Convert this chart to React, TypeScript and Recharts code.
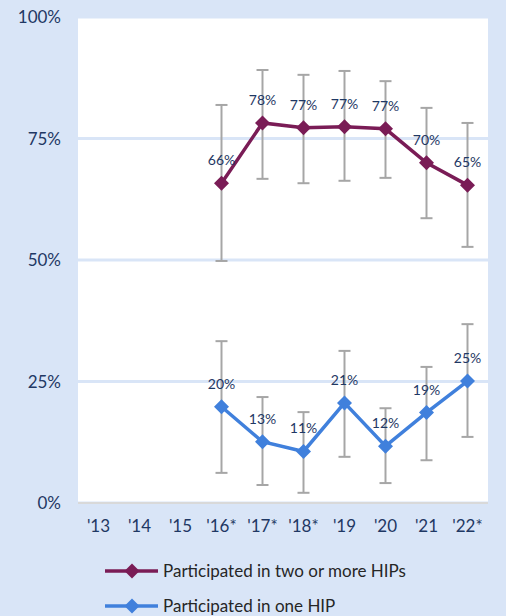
import React from "react";
import {
  ComposedChart,
  Line,
  XAxis,
  YAxis,
  CartesianGrid,
  Legend,
  ErrorBar,
  LabelList,
} from "recharts";

// survey years (asterisk = significant change)
const years = ["'13", "'14", "'15", "'16*", "'17*", "'18*", "'19", "'20", "'21", "'22*"];

// Participated in two or more HIPs
const twoPlus = [null, null, null, 65.8, 78.2, 77.2, 77.4, 77.0, 70.0, 65.4];
const twoPlusLow = [null, null, null, 49.8, 66.7, 65.8, 66.3, 66.9, 58.6, 52.7];
const twoPlusHigh = [null, null, null, 81.9, 89.1, 88.1, 88.9, 86.8, 81.3, 78.2];

// Participated in one HIP
const oneHip = [null, null, null, 19.8, 12.6, 10.6, 20.6, 11.7, 18.6, 25.1];
const oneHipLow = [null, null, null, 6.2, 3.7, 2.1, 9.5, 4.1, 8.8, 13.6];
const oneHipHigh = [null, null, null, 33.3, 21.8, 18.7, 31.3, 19.5, 28.0, 36.8];

const yTicks = [0, 25, 50, 75, 100];

const series = [
  { key: "twoPlus", name: "Participated in two or more HIPs", color: "#7a1c56" },
  { key: "oneHip", name: "Participated in one HIP", color: "#4080dc" },
];

const bg = "#d9e5f7";
const textBlue = "#1f3864";
const font = "Lato, 'Noto Sans', sans-serif";

const errFor = (v: number | null, lo: number | null, hi: number | null) =>
  v == null || lo == null || hi == null ? null : [v - lo, hi - v];

const data = years.map((year, i) => ({
  year,
  twoPlus: twoPlus[i],
  oneHip: oneHip[i],
  twoPlusErr: errFor(twoPlus[i], twoPlusLow[i], twoPlusHigh[i]),
  oneHipErr: errFor(oneHip[i], oneHipLow[i], oneHipHigh[i]),
}));

const makeDiamond = (color: string) => (props: any) => {
  const { cx, cy, value, index } = props;
  if (cx == null || cy == null || value == null) return <g key={index} />;
  const r = 7.5;
  return (
    <polygon
      key={index}
      points={`${cx},${cy - r} ${cx + r},${cy} ${cx},${cy + r} ${cx - r},${cy}`}
      fill={color}
    />
  );
};

const LegendBox = () => (
  <div style={{ fontFamily: font, fontSize: 17, color: "#262626" }}>
    {series.map((s, i) => (
      <div
        key={s.key}
        style={{ display: "flex", alignItems: "center", height: 35, marginTop: i === 0 ? 10 : 0 }}
      >
        <svg width={160} height={20} style={{ display: "block" }}>
          <line x1={105} y1={10} x2={158} y2={10} stroke={s.color} strokeWidth={3.5} />
          <polygon points="132,2.5 139.5,10 132,17.5 124.5,10" fill={s.color} />
        </svg>
        <span style={{ marginLeft: 3 }}>{s.name}</span>
      </div>
    ))}
  </div>
);

export default function App() {
  return (
    <div style={{ position: "absolute", left: 0, top: 0, width: 506, height: 616, background: bg }}>
      <ComposedChart
        width={506}
        height={616}
        data={data}
        margin={{ top: 17, right: 18, left: 0, bottom: 0 }}
      >
        <CartesianGrid
          vertical={false}
          fill="#ffffff"
          stroke={bg}
          strokeWidth={3}
        />
        <XAxis
          dataKey="year"
          height={40}
          padding={{ left: 20.5, right: 20.5 }}
          tickLine={false}
          axisLine={{ stroke: "#d9d9d9", strokeWidth: 2 }}
          tickMargin={11}
          tick={{ fill: textBlue, fontSize: 17, fontFamily: font }}
          interval={0}
        />
        <YAxis
          width={78}
          domain={[0, 100]}
          ticks={yTicks}
          tickFormatter={(v: number) => `${v}%`}
          tickLine={false}
          axisLine={false}
          tickMargin={11}
          tick={{ fill: textBlue, fontSize: 17, fontFamily: font }}
        />
        <Legend verticalAlign="bottom" height={73} content={() => <LegendBox />} />

        {/* error bars first so they sit under lines and markers */}
        <Line
          dataKey="twoPlus"
          stroke="none"
          dot={false}
          activeDot={false}
          legendType="none"
          isAnimationActive={false}
        >
          <ErrorBar dataKey="twoPlusErr" stroke="#a6a6a6" strokeWidth={2} width={6} direction="y" />
        </Line>
        <Line
          dataKey="oneHip"
          stroke="none"
          dot={false}
          activeDot={false}
          legendType="none"
          isAnimationActive={false}
        >
          <ErrorBar dataKey="oneHipErr" stroke="#a6a6a6" strokeWidth={2} width={6} direction="y" />
        </Line>

        {series.map((s) => (
          <Line
            key={s.key}
            dataKey={s.key}
            name={s.name}
            stroke={s.color}
            strokeWidth={3.5}
            dot={makeDiamond(s.color)}
            activeDot={false}
            isAnimationActive={false}
          >
            <LabelList
              dataKey={s.key}
              position="top"
              offset={18}
              fill={textBlue}
              fontSize={14}
              fontFamily={font}
              formatter={(v: any) => (v == null ? "" : `${Math.round(v)}%`)}
            />
          </Line>
        ))}
      </ComposedChart>
    </div>
  );
}
